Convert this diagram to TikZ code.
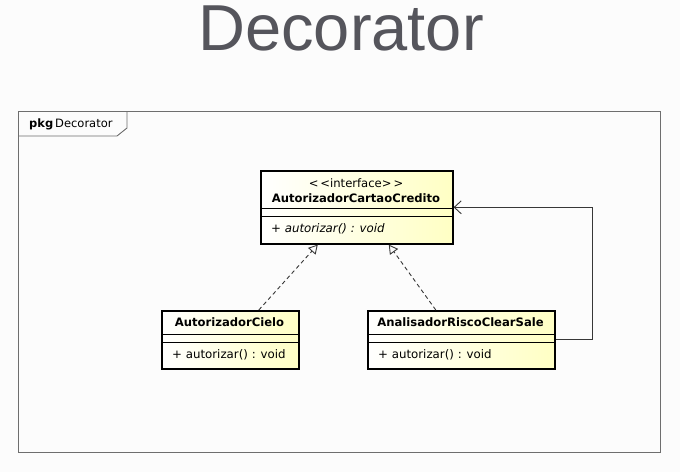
\documentclass[tikz,border=0pt]{standalone}
\usepackage{fontspec}
\setmainfont{DejaVu Sans}
\newfontfamily\titlefont{Liberation Sans}
\usetikzlibrary{arrows.meta,calc}
\definecolor{bgcol}{RGB}{252,252,252}
\definecolor{clsyellow}{RGB}{255,255,196}
\definecolor{titlegray}{RGB}{85,85,92}
\definecolor{framegray}{RGB}{110,110,110}
\definecolor{linegray}{RGB}{55,55,55}
\begin{document}
\begin{tikzpicture}[x=1pt,y=-1pt,
  cls/.style={draw=black, line width=1.6pt, left color=white, right color=clsyellow,
    inner sep=0pt, anchor=north west, rectangle},
  clsname/.style={font=\fontsize{11.6}{13}\selectfont\bfseries, inner sep=0pt},
  clsop/.style={font=\fontsize{11.8}{13}\selectfont, inner sep=0pt, anchor=west},
  sep/.style={draw=black, line width=0.9pt},
  real/.style={draw=linegray, line width=0.9pt, dashed, dash pattern=on 4pt off 3pt,
    -{Triangle[open, length=9pt, width=10pt, line width=0.9pt]}},
  assoc/.style={draw=linegray, line width=0.9pt,
    -{Straight Barb[length=7pt, width=13pt, line width=0.9pt]}},
  frame/.style={draw=framegray, line width=0.9pt, inner sep=0pt, anchor=north west, rectangle}
]
\fill[bgcol] (0,0) rectangle (680,472);
\useasboundingbox (0,0) rectangle (680,472);

% title
\node[text=titlegray, inner sep=0pt] (title) at (341,28.5) {\titlefont\fontsize{65}{65}\selectfont Decorator};

% package frame
\node[frame, minimum width=642pt, minimum height=341pt] (pkg) at (18,111) {};
\coordinate (tabA) at (18,136);
\coordinate (tabB) at (117,136);
\coordinate (tabC) at (127,128);
\coordinate (tabD) at (127,111);
\draw[framegray, line width=0.9pt] (tabA) -- (tabB) -- (tabC) -- (tabD);
\node[anchor=west, inner sep=0pt, font=\fontsize{11.5}{13}\selectfont] (pkglabel) at (29,124) {\textbf{pkg}\,Decorator};

% interface
\node[cls, minimum width=192pt, minimum height=73pt] (iface) at (260,170) {};
\draw[sep] (260,208) -- (452,208);
\draw[sep] (260,216) -- (452,216);
\node[inner sep=0pt, font=\fontsize{11.6}{13}\selectfont] (ifst) at (356,183) {<\,<interface>\,>};
\node[clsname] (ifname) at (356,198) {AutorizadorCartaoCredito};
\node[clsop] (ifop) at (271,229) {\itshape + autorizar() : void};

% AutorizadorCielo
\node[cls, minimum width=137pt, minimum height=58pt] (cielo) at (161,310) {};
\draw[sep] (161,334) -- (298,334);
\draw[sep] (161,342) -- (298,342);
\node[clsname] (cieloname) at (229.5,322) {AutorizadorCielo};
\node[clsop] (cieloop) at (172,355) {+ autorizar() : void};

% AnalisadorRiscoClearSale
\node[cls, minimum width=187pt, minimum height=58pt] (clear) at (367,310) {};
\draw[sep] (367,334) -- (554,334);
\draw[sep] (367,342) -- (554,342);
\node[clsname] (clearname) at (460.5,322) {AnalisadorRiscoClearSale};
\node[clsop] (clearop) at (378,355) {+ autorizar() : void};

% connectors
\draw[real] ([xshift=28.5pt]cielo.north) -- ([xshift=-39pt]iface.south);
\draw[real] ([xshift=-25.5pt]clear.north) -- ([xshift=32pt]iface.south);
\draw[assoc] (clear.east) -- ++(37,0) |- (iface.east);
\end{tikzpicture}
\end{document}
